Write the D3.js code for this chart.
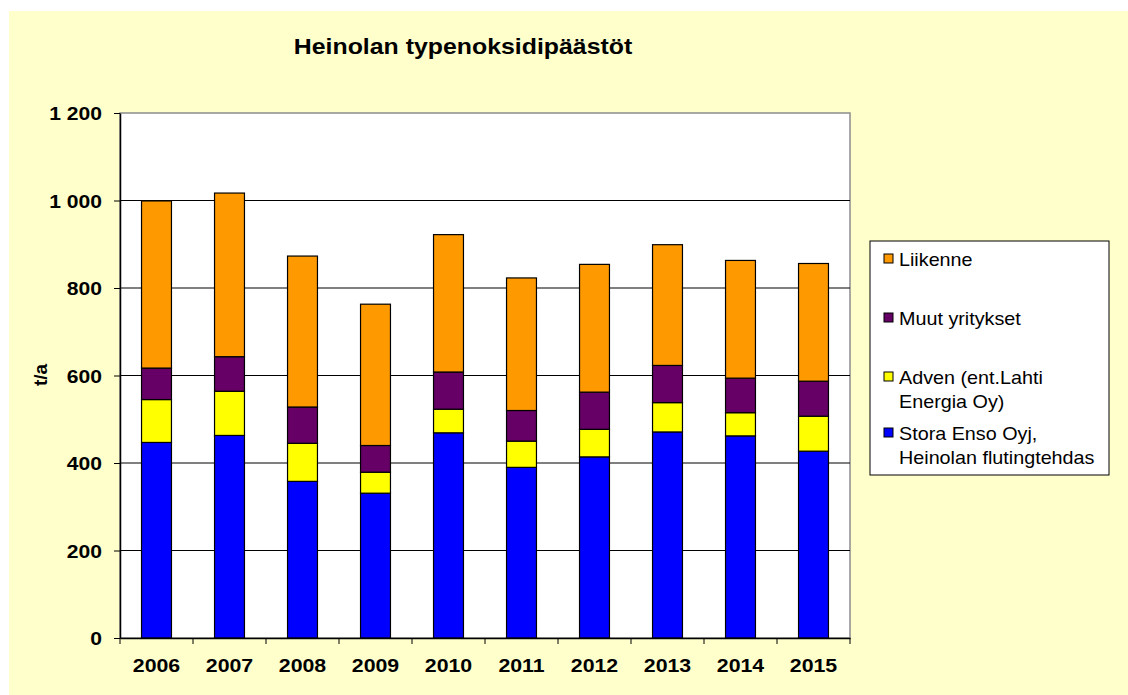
<!DOCTYPE html>
<html>
<head>
    <script type="text/javascript" src="https://d3js.org/d3.v7.min.js"></script>
    <style>
        body { margin: 0; background: #ffffff; }
        svg { display: block; font-family: Arial, "Liberation Sans", sans-serif; }
    </style>
</head>
<body>
    <svg></svg>
    <script>
        // Data (t/a)
        const years = ["2006", "2007", "2008", "2009", "2010", "2011", "2012", "2013", "2014", "2015"];
        const storaEnso = [447, 463, 358, 331, 469, 390, 414, 471, 462, 427];
        const adven = [98, 101, 87, 48, 54, 60, 63, 67, 53, 80];
        const muut = [72, 79, 83, 61, 85, 70, 85, 85, 79, 80];
        const liikenne = [382, 374, 345, 323, 314, 303, 292, 276, 269, 269];
        const yTicks = [0, 200, 400, 600, 800, 1000, 1200];

        const seriesKeys = ["stora", "adven", "muut", "liikenne"];
        const seriesNames = {
            liikenne: ["Liikenne"],
            muut: ["Muut yritykset"],
            adven: ["Adven (ent.Lahti", "Energia Oy)"],
            stora: ["Stora Enso Oyj,", "Heinolan flutingtehdas"]
        };
        const colors = { stora: "#0000ff", adven: "#ffff00", muut: "#660066", liikenne: "#ff9900" };

        const table = years.map((y, i) => ({
            year: y, stora: storaEnso[i], adven: adven[i], muut: muut[i], liikenne: liikenne[i]
        }));

        const W = 1128, H = 695;
        const stretch = 1.11; // text in the original is drawn a bit wide
        const svg = d3.select("svg").attr("width", W).attr("height", H);

        // page background
        svg.append("rect").attr("x", 9).attr("y", 11).attr("width", W - 9).attr("height", H - 11)
            .attr("fill", "#ffffcc");

        const x = d3.scaleBand().domain(years).range([120, 850])
            .paddingInner(0.59).paddingOuter(0.295);
        const y = d3.scaleLinear().domain([0, 1200]).range([638, 113]);

        // plot area
        svg.append("rect").attr("x", 120).attr("y", 113).attr("width", 730).attr("height", 525)
            .attr("fill", "#ffffff").attr("stroke", "#8c8c8c").attr("stroke-width", 1.5);

        // gridlines
        svg.append("g").selectAll("line").data(yTicks.filter(d => d > 0 && d < 1200)).enter()
            .append("line")
            .attr("x1", 120).attr("x2", 850)
            .attr("y1", d => y(d)).attr("y2", d => y(d))
            .attr("stroke", "#000").attr("stroke-width", 1);

        // stacked bars
        const stacked = d3.stack().keys(seriesKeys)(table);
        svg.append("g").selectAll("g").data(stacked).enter()
            .append("g")
            .attr("fill", d => colors[d.key])
            .selectAll("rect").data(d => d).enter()
            .append("rect")
            .attr("x", d => x(d.data.year))
            .attr("y", d => y(d[1]))
            .attr("width", x.bandwidth())
            .attr("height", d => y(d[0]) - y(d[1]))
            .attr("stroke", "#000").attr("stroke-width", 1.2);

        // y axis
        const yAxis = svg.append("g").attr("transform", "translate(120,0)")
            .call(d3.axisLeft(y).tickValues(yTicks).tickSize(6).tickSizeOuter(0)
                .tickFormat(d => d3.format(",")(d).replace(",", " ")));
        yAxis.select(".domain").attr("stroke", "#000").attr("stroke-width", 1.5);
        yAxis.selectAll(".tick line").attr("stroke", "#000");
        yAxis.selectAll(".tick text")
            .attr("x", 0).attr("dy", "0.35em")
            .attr("transform", `translate(-18,0) scale(${stretch},1)`)
            .attr("font-size", 19).attr("font-weight", "bold").attr("fill", "#000")
            .attr("font-family", "Arial, 'Liberation Sans', sans-serif");

        // x axis: ticks sit between categories
        const xAxis = svg.append("g").attr("transform", "translate(0,638)")
            .call(d3.axisBottom(x).tickSize(0).tickPadding(0));
        xAxis.select(".domain").attr("stroke", "#000").attr("stroke-width", 1.5);
        xAxis.selectAll(".tick text")
            .attr("y", 0).attr("dy", null)
            .attr("transform", `translate(0,33.5) scale(${stretch},1)`)
            .attr("font-size", 19.2).attr("font-weight", "bold").attr("fill", "#000")
            .attr("font-family", "Arial, 'Liberation Sans', sans-serif");
        const step = x.step();
        xAxis.selectAll(".sep").data(d3.range(years.length + 1)).enter()
            .append("line")
            .attr("x1", i => 120 + i * step).attr("x2", i => 120 + i * step)
            .attr("y1", 0).attr("y2", 6)
            .attr("stroke", "#000");

        // axis title
        svg.append("text")
            .attr("transform", "translate(47,375) rotate(-90)")
            .attr("text-anchor", "middle")
            .attr("font-size", 19).attr("font-weight", "bold")
            .text("t/a");

        // chart title
        svg.append("text")
            .attr("transform", `translate(463,54) scale(${stretch},1)`)
            .attr("text-anchor", "middle")
            .attr("font-size", 22.4).attr("font-weight", "bold")
            .text("Heinolan typenoksidipäästöt");

        // legend
        const legend = svg.append("g");
        legend.append("rect").attr("x", 870).attr("y", 241).attr("width", 239).attr("height", 234)
            .attr("fill", "#ffffff").attr("stroke", "#000").attr("stroke-width", 1);
        const legendOrder = ["liikenne", "muut", "adven", "stora"];
        const legendY = { liikenne: 259, muut: 318, adven: 377, stora: 433 };
        legendOrder.forEach(k => {
            const cy = legendY[k];
            legend.append("rect")
                .attr("x", 884).attr("y", cy - 5).attr("width", 9).attr("height", 9)
                .attr("fill", colors[k]).attr("stroke", "#000").attr("stroke-width", 1);
            seriesNames[k].forEach((line, j) => {
                legend.append("text")
                    .attr("transform", `translate(899,${cy + 6.5 + j * 24}) scale(${stretch},1)`)
                    .attr("font-size", 17.8)
                    .text(line);
            });
        });
    </script>
</body>
</html>
